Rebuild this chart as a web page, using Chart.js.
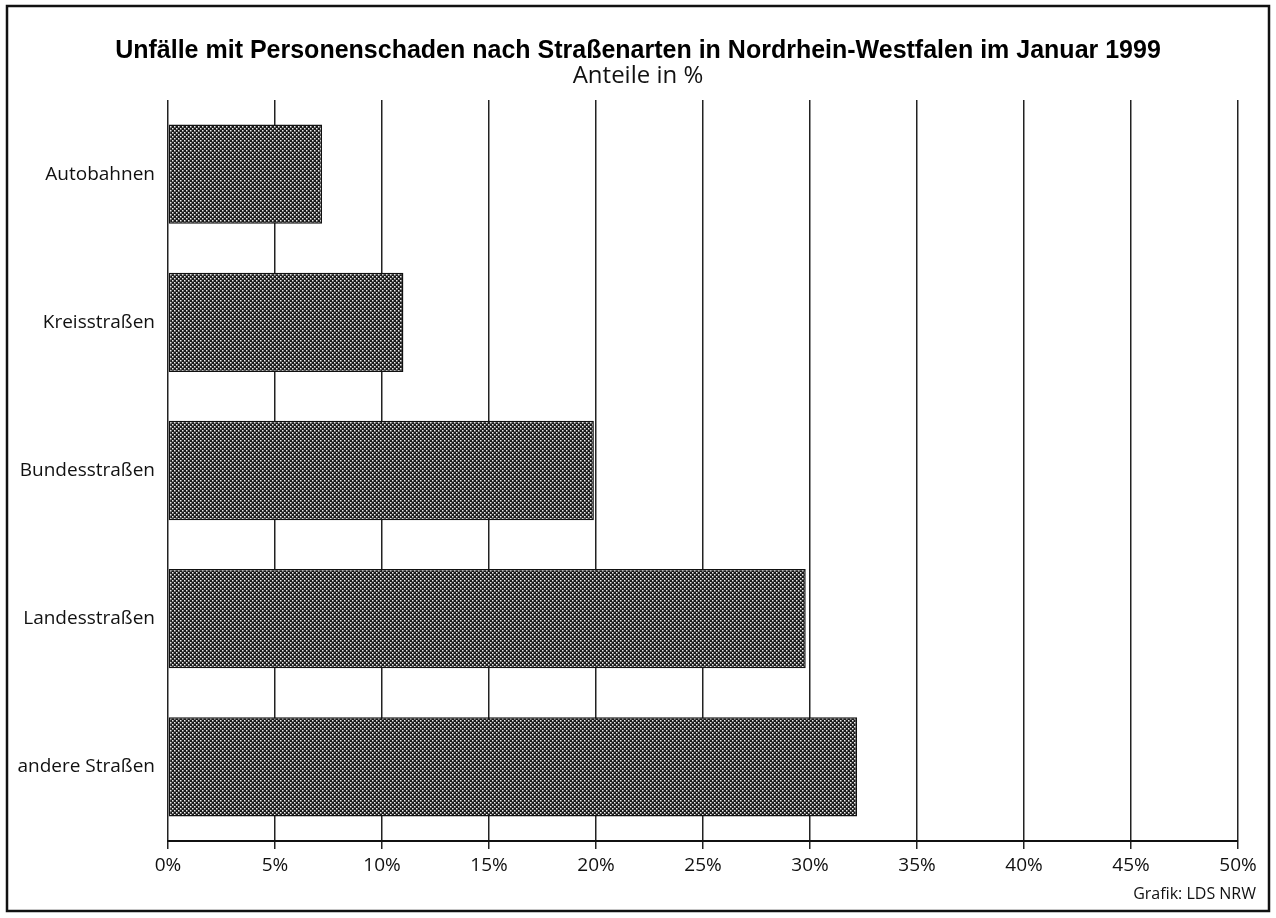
<!DOCTYPE html>
<html>
<head>
<meta charset="utf-8">
<script src="https://cdn.jsdelivr.net/npm/chart.js@4"></script>
<style>
	html, body { margin: 0; padding: 0; background: #ffffff; overflow: hidden; }
	#roadChart { position: absolute; left: 0; top: 0; }
</style>
</head>
<body>
<canvas id="roadChart" width="1276" height="918"></canvas>
<script>
"use strict";

var categories = ["Autobahnen", "Kreisstraßen", "Bundesstraßen", "Landesstraßen", "andere Straßen"];
var shares = [7.2, 11.0, 19.9, 29.8, 32.2];
var tickValues = [0, 5, 10, 15, 20, 25, 30, 35, 40, 45, 50];

var titleText = "Unfälle mit Personenschaden nach Straßenarten in Nordrhein-Westfalen im Januar 1999";
var subtitleText = "Anteile in %";
var sourceText = "Grafik: LDS NRW";

var labelFont = "'Open Sans', 'Noto Sans', sans-serif";

Chart.defaults.color = "#111111";
Chart.defaults.font.family = labelFont;

function makeHatch() {
	var tile = document.createElement("canvas");
	tile.width = 4;
	tile.height = 4;
	var c = tile.getContext("2d");
	c.fillStyle = "#1a1a1a";
	c.fillRect(0, 0, 4, 4);
	c.fillStyle = "#eeeeee";
	c.fillRect(0, 0, 1.5, 1.5);
	c.fillRect(2, 2, 1.5, 1.5);
	return c.createPattern(tile, "repeat");
}

// frame and source note
var framePlugin = {
	id: "frame",
	afterDraw: function (chart) {
		var ctx = chart.ctx;
		ctx.save();
		ctx.strokeStyle = "#111111";
		ctx.lineWidth = 2.5;
		ctx.strokeRect(7, 6, 1262, 905);
		ctx.font = "16px " + labelFont;
		ctx.fillStyle = "#111111";
		ctx.textAlign = "right";
		ctx.textBaseline = "middle";
		ctx.fillText(sourceText, 1256, 894);
		ctx.restore();
	}
};

var ctx = document.getElementById("roadChart").getContext("2d");

var chart = new Chart(ctx, {
	type: "bar",
	data: {
		labels: categories,
		datasets: [{
			data: shares,
			backgroundColor: makeHatch(),
			borderColor: "#111111",
			borderWidth: 1.5,
			borderSkipped: false,
			categoryPercentage: 1,
			barPercentage: 0.67
		}]
	},
	options: {
		indexAxis: "y",
		responsive: false,
		animation: false,
		devicePixelRatio: 1,
		layout: { padding: 0 },
		plugins: {
			legend: { display: false },
			tooltip: { enabled: false },
			title: {
				display: true,
				text: titleText,
				color: "#000000",
				font: { family: "'Liberation Sans', Arial, sans-serif", size: 25, weight: "bold", lineHeight: 0.9 },
				padding: { top: 40, bottom: 2 }
			},
			subtitle: {
				display: true,
				text: subtitleText,
				color: "#111111",
				font: { family: labelFont, size: 24, lineHeight: 1 },
				padding: { top: 0, bottom: 11.5 }
			}
		},
		scales: {
			x: {
				type: "linear",
				min: 0,
				max: 50,
				afterBuildTicks: function (scale) {
					scale.ticks = tickValues.map(function (v) { return { value: v }; });
				},
				afterFit: function (scale) { scale.height = 77; },
				grid: { color: "#222222", lineWidth: 1.5, tickLength: 8, drawTicks: true },
				border: { display: true, color: "#111111", width: 2 },
				ticks: {
					padding: 5,
					autoSkip: false,
					maxRotation: 0,
					font: { size: 19 },
					callback: function (v) { return v + "%"; }
				}
			},
			y: {
				afterFit: function (scale) { scale.width = 168; },
				grid: { display: false, drawTicks: false },
				border: { display: false },
				ticks: { padding: 13, font: { size: 19 } }
			},
			// empty right margin so the title centres on the whole frame
			yMargin: {
				type: "category",
				position: "right",
				afterFit: function (scale) { scale.width = 38; },
				grid: { display: false, drawTicks: false },
				border: { display: false },
				ticks: { display: false }
			}
		}
	},
	plugins: [framePlugin]
});
</script>
</body>
</html>
